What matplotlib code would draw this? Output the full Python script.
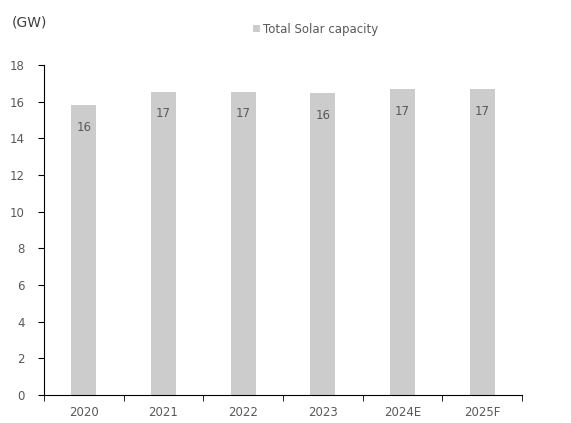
import matplotlib
matplotlib.use("Agg")
import matplotlib.pyplot as plt

years = ["2020", "2021", "2022", "2023", "2024E", "2025F"]
capacity = [15.8, 16.53, 16.53, 16.47, 16.69, 16.69]

bar_color = "#cccccc"
text_color = "#595959"

fig = plt.figure(figsize=(5.71, 4.23), dpi=100)
ax = fig.add_axes([44 / 571, 28 / 423, 478 / 571, 330 / 423])

x = range(len(years))
bars = ax.bar(x, capacity, width=0.31, color=bar_color, label="Total Solar capacity")

# value labels sit just inside the top of each bar
for xi, v in zip(x, capacity):
    ax.text(xi, v - 1.2, f"{v:.0f}", ha="center", va="center",
            fontsize=8.5, color=text_color)

ax.set_xlim(-0.5, len(years) - 0.5)
ax.set_ylim(0, 18)
ax.set_yticks(range(0, 19, 2))
ax.set_xticks(x)
ax.set_xticklabels(years)
# category boundary ticks on the x axis
ax.set_xticks([i + 0.5 for i in range(-1, len(years))], minor=True)
ax.tick_params(axis="x", which="major", length=0, pad=8, labelsize=8.5, labelcolor=text_color)
ax.tick_params(axis="x", which="minor", length=4, direction="out", color="black")
ax.tick_params(axis="y", length=4, direction="out", pad=10, labelsize=8.5, labelcolor=text_color)

for side in ["top", "right"]:
    ax.spines[side].set_visible(False)
ax.spines["left"].set_color("black")
ax.spines["bottom"].set_color("black")

fig.text(12 / 571, 1 - 23 / 423, "(GW)", fontsize=10, color="#404040", va="center")

ax.legend(loc="center", frameon=False, fontsize=8.5, handlelength=0.6, handleheight=0.6,
          handletextpad=0.2, labelcolor=text_color)
leg = ax.get_legend()
leg.set_bbox_to_anchor((0.553, 1 - 29 / 423), transform=fig.transFigure)

fig.savefig("out.png", dpi=100)
